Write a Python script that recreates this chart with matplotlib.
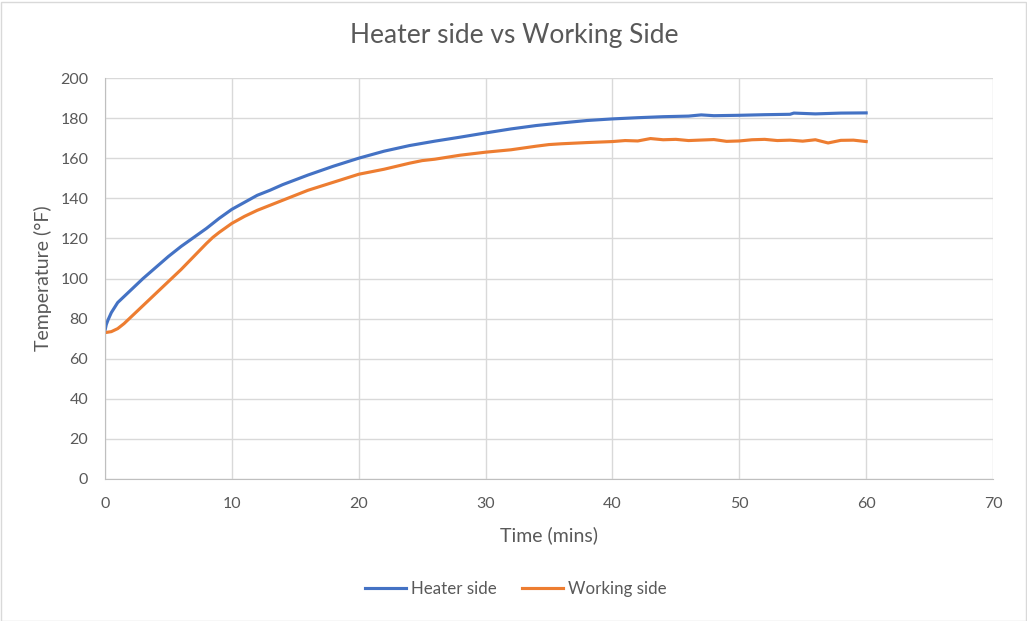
import matplotlib.pyplot as plt
from matplotlib.patches import Rectangle

# time (mins) and temperatures (°F)
time_heater = [0, 0.1, 0.25, 0.5, 0.75, 1, 1.5, 2, 3, 4, 5, 6, 7, 8, 9, 10, 11, 12, 13,
               14, 16, 18, 20, 22, 24, 26, 28, 30, 32, 34, 36, 38, 40, 42, 44, 46, 47,
               48, 50, 52, 54, 54.3, 56, 58, 60]
heater_side = [74, 77, 79.5, 83, 85.5, 88, 91, 94, 100, 105.5, 111, 116, 120.5, 125,
               130, 134.5, 138, 141.5, 144, 146.8, 151.6, 156, 160, 163.5, 166.3, 168.5,
               170.5, 172.6, 174.6, 176.3, 177.6, 178.8, 179.6, 180.2, 180.7, 181.0,
               181.6, 181.2, 181.4, 181.7, 181.9, 182.5, 182.1, 182.5, 182.6]

time_working = [0, 0.5, 1, 1.5, 2, 3, 4, 5, 6, 7, 8, 8.5, 9, 10, 11, 12, 13, 14, 16, 18,
                20, 22, 24, 25, 26, 28, 30, 32, 34, 35, 36, 38, 40, 41, 42, 43, 44, 45,
                46, 48, 49, 50, 51, 52, 53, 54, 55, 56, 57, 58, 59, 60]
working_side = [73, 73.5, 75, 77.5, 80.5, 86.5, 92.5, 98.5, 104.5, 111, 117.5, 120.5,
                123, 127.5, 131, 134, 136.5, 139, 144, 148, 152, 154.5, 157.5, 158.8,
                159.5, 161.5, 163, 164.2, 166, 166.8, 167.2, 167.8, 168.3, 168.8, 168.6,
                169.8, 169.2, 169.4, 168.8, 169.3, 168.4, 168.6, 169.2, 169.4, 168.8,
                169.0, 168.5, 169.2, 167.6, 168.9, 169.0, 168.3]

text_color = '#595959'
grid_color = '#D9D9D9'
axis_color = '#BFBFBF'

fig = plt.figure(figsize=(10.27, 6.21), dpi=100)
plt.rcParams['font.family'] = ['Lato', 'DejaVu Sans']

ax = fig.add_axes([105 / 1027, 1 - 479 / 621, 888 / 1027, 401 / 621])

ax.plot(time_heater, heater_side, color='#4472C4', lw=2.25, label='Heater side')
ax.plot(time_working, working_side, color='#ED7D31', lw=2.25, label='Working side')

ax.set_xlim(0, 70)
ax.set_ylim(0, 200)
ax.set_xticks(range(0, 71, 10))
ax.set_yticks(range(0, 201, 20))
ax.grid(True, color=grid_color, lw=1)
ax.set_axisbelow(True)
for s in ['top', 'right']:
    ax.spines[s].set_visible(False)
for s in ['left', 'bottom']:
    ax.spines[s].set_color(axis_color)
ax.tick_params(length=0, labelsize=11.5, colors=text_color)
ax.tick_params(axis='x', pad=13)
ax.tick_params(axis='y', pad=12)

ax.set_xlabel('Time (mins)', fontsize=14, color=text_color)
ax.set_ylabel('Temperature (°F)', fontsize=14, color=text_color)
ax.xaxis.set_label_coords(0.5, -(526 - 479) / 401)
ax.yaxis.set_label_coords(-(105 - 52) / 888, 0.5)

fig.text(514 / 1027, 1 - 36 / 621, 'Heater side vs Working Side', fontsize=19,
         color=text_color, ha='center', va='center')

fig.legend(loc='center', bbox_to_anchor=(516 / 1027, 1 - 589 / 621), ncol=2,
           frameon=False, fontsize=12.2, labelcolor=text_color, handlelength=2.4,
           columnspacing=1.5, handletextpad=0.3)

fig.patches.append(Rectangle((0.5 / 1027, 0.5 / 621), 1025 / 1027, 619 / 621,
                             transform=fig.transFigure, fill=False,
                             edgecolor=grid_color, lw=1))

fig.savefig('out.png', dpi=100, facecolor='white')
